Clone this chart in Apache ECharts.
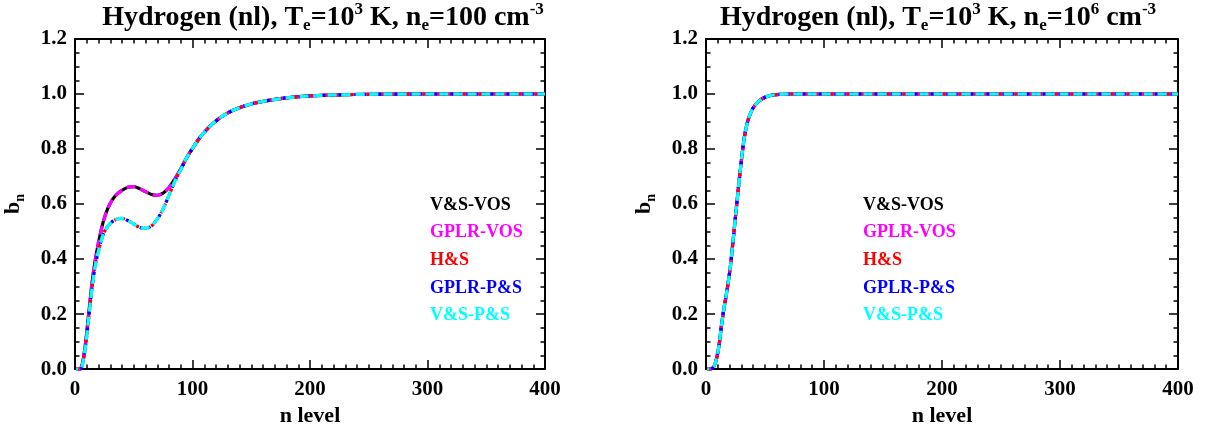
<!DOCTYPE html>
<html>
<head>
<meta charset="utf-8">
<script src="https://cdn.jsdelivr.net/npm/echarts@6/dist/echarts.min.js"></script>
<style>
html,body{margin:0;padding:0;background:#fff;}
#chart{width:1211px;height:432px;}
</style>
</head>
<body>
<div id="chart"></div>
<script>
// ---- data ----
const seriesNames = ['V&S-VOS', 'GPLR-VOS', 'H&S', 'GPLR-P&S', 'V&S-P&S'];
const seriesColors = ['#000000', '#ff00ff', '#ff0000', '#0000ff', '#00ffff'];

// left panel: n_e = 100 cm^-3
const nLeft   = [1, 3, 5, 7, 9, 11, 13, 15, 17, 20, 24, 28, 32, 36, 40, 45, 50, 55, 60, 65, 70, 75, 80, 85, 90, 95, 100, 106, 112, 118, 125, 135, 150, 165, 180, 200, 225, 250, 300, 350, 400];
const vosLeft = [0.0, 0.0, 0.003, 0.035, 0.095, 0.175, 0.255, 0.33, 0.39, 0.46, 0.535, 0.585, 0.617, 0.637, 0.65, 0.661, 0.663, 0.656, 0.645, 0.635, 0.632, 0.64, 0.66, 0.692, 0.728, 0.768, 0.802, 0.84, 0.87, 0.895, 0.918, 0.942, 0.964, 0.977, 0.986, 0.993, 0.997, 0.999, 1.0, 1.0, 1.0];
const psLeft  = [0.0, 0.0, 0.0, 0.03, 0.085, 0.16, 0.24, 0.31, 0.37, 0.43, 0.49, 0.52, 0.537, 0.546, 0.548, 0.54, 0.527, 0.515, 0.512, 0.52, 0.545, 0.582, 0.632, 0.683, 0.725, 0.768, 0.802, 0.84, 0.87, 0.895, 0.918, 0.942, 0.964, 0.977, 0.986, 0.993, 0.997, 0.999, 1.0, 1.0, 1.0];

// right panel: n_e = 10^6 cm^-3
const nRight = [1, 3, 5, 7, 9, 11, 13, 15, 17, 19, 21, 23, 25, 27, 29, 31, 33, 36, 40, 45, 50, 55, 60, 70, 100, 200, 300, 400];
const bRight = [0.0, 0.0, 0.002, 0.012, 0.04, 0.085, 0.155, 0.215, 0.265, 0.32, 0.385, 0.47, 0.555, 0.64, 0.72, 0.795, 0.855, 0.91, 0.95, 0.975, 0.988, 0.995, 0.998, 1.0, 1.0, 1.0, 1.0, 1.0];

const leftSets  = [vosLeft, vosLeft, psLeft, psLeft, psLeft];
const xTicks = [0, 100, 200, 300, 400];

// ---- styling ----
const FONT = 'Liberation Serif';
const lineTypes = [
  {type: 'solid'},
  {type: [9, 5]},
  {type: [3, 5]},
  {type: [3, 5], dashOffset: 4},
  {type: [9, 5], dashOffset: 7}
];

function xAxes(gi) {
  const base = {
    gridIndex: gi, type: 'value', min: 0, max: 400, interval: 100,
    axisLine: {show: true, onZero: false, lineStyle: {color: '#000', width: 2}},
    axisTick: {show: true, inside: true, length: 9, lineStyle: {color: '#000', width: 1.5}},
    minorTick: {show: true, splitNumber: 10, length: 4.5, lineStyle: {color: '#000', width: 1.5}},
    splitLine: {show: false}, minorSplitLine: {show: false}
  };
  return [
    Object.assign({}, base, {
      position: 'bottom',
      axisLabel: {show: true, margin: 10, color: '#000', fontFamily: FONT, fontWeight: 'bold', fontSize: 21},
      name: 'n level', nameLocation: 'middle', nameGap: 32,
      nameTextStyle: {color: '#000', fontFamily: FONT, fontWeight: 'bold', fontSize: 22}
    }),
    Object.assign({}, base, {position: 'top', axisLabel: {show: false}})
  ];
}
function yAxes(gi) {
  const base = {
    gridIndex: gi, type: 'value', min: 0, max: 1.2, interval: 0.2,
    axisLine: {show: true, onZero: false, lineStyle: {color: '#000', width: 2}},
    axisTick: {show: true, inside: true, length: 9, lineStyle: {color: '#000', width: 1.5}},
    minorTick: {show: true, splitNumber: 4, length: 4.5, lineStyle: {color: '#000', width: 1.5}},
    splitLine: {show: false}, minorSplitLine: {show: false}
  };
  return [
    Object.assign({}, base, {
      position: 'left',
      axisLabel: {show: true, margin: 8, color: '#000', fontFamily: FONT, fontWeight: 'bold', fontSize: 21,
                  formatter: v => v.toFixed(1)},
      name: 'b{s|n}', nameLocation: 'middle', nameGap: 48, nameRotate: 90,
      nameTextStyle: {color: '#000', fontFamily: FONT, fontWeight: 'bold', fontSize: 22,
        rich: {s: {fontFamily: FONT, fontWeight: 'bold', fontSize: 14, verticalAlign: 'bottom', lineHeight: 28}}}
    }),
    Object.assign({}, base, {position: 'right', axisLabel: {show: false}})
  ];
}

const titleRich = {
  e: {fontFamily: FONT, fontWeight: 'bold', fontSize: 17, verticalAlign: 'bottom', lineHeight: 33, color: '#000'},
  s: {fontFamily: FONT, fontWeight: 'bold', fontSize: 17, verticalAlign: 'top', lineHeight: 33, color: '#000'}
};
function mkTitle(text, cx) {
  return {
    text: text, left: cx, top: -4, textAlign: 'center',
    textStyle: {color: '#000', fontFamily: FONT, fontWeight: 'bold', fontSize: 28, lineHeight: 33, rich: titleRich}
  };
}

function mkLegend(left) {
  return {
    left: left, top: 191, orient: 'vertical', itemGap: 9.7,
    icon: 'none', itemWidth: 0, itemHeight: 0, selectedMode: false,
    textStyle: {fontFamily: FONT, fontWeight: 'bold', fontSize: 18},
    data: seriesNames.map((nm, i) => ({name: nm, textStyle: {color: seriesColors[i]}}))
  };
}

const series = [];
seriesNames.forEach((nm, i) => {
  series.push({
    name: nm, type: 'line', xAxisIndex: 0, yAxisIndex: 0,
    data: nLeft.map((n, k) => [n, leftSets[i][k]]),
    showSymbol: false, smooth: 0.3, color: seriesColors[i],
    lineStyle: Object.assign({color: seriesColors[i], width: 3.2}, lineTypes[i]),
    animation: false, z: 2 + i
  });
});
seriesNames.forEach((nm, i) => {
  series.push({
    name: nm, type: 'line', xAxisIndex: 2, yAxisIndex: 2,
    data: nRight.map((n, k) => [n, bRight[k]]),
    showSymbol: false, smooth: 0.3, color: seriesColors[i],
    lineStyle: Object.assign({color: seriesColors[i], width: 3.2}, lineTypes[i]),
    animation: false, z: 2 + i
  });
});

const chart = echarts.init(document.getElementById('chart'), null, {renderer: 'canvas'});
chart.setOption({
  backgroundColor: '#fff',
  animation: false,
  title: [
    mkTitle('Hydrogen (nl), T{e|e}=10{s|3} K, n{e|e}=100 cm{s|-3}', 318),
    mkTitle('Hydrogen (nl), T{e|e}=10{s|3} K, n{e|e}=10{s|6} cm{s|-3}', 933)
  ],
  legend: [mkLegend(420), mkLegend(853)],
  grid: [
    {left: 75, top: 39, width: 470, height: 334, containLabel: false},
    {left: 706, top: 39, width: 472, height: 334, containLabel: false}
  ],
  xAxis: xAxes(0).concat(xAxes(1)),
  yAxis: yAxes(0).concat(yAxes(1)),
  series: series
});
</script>
</body>
</html>
